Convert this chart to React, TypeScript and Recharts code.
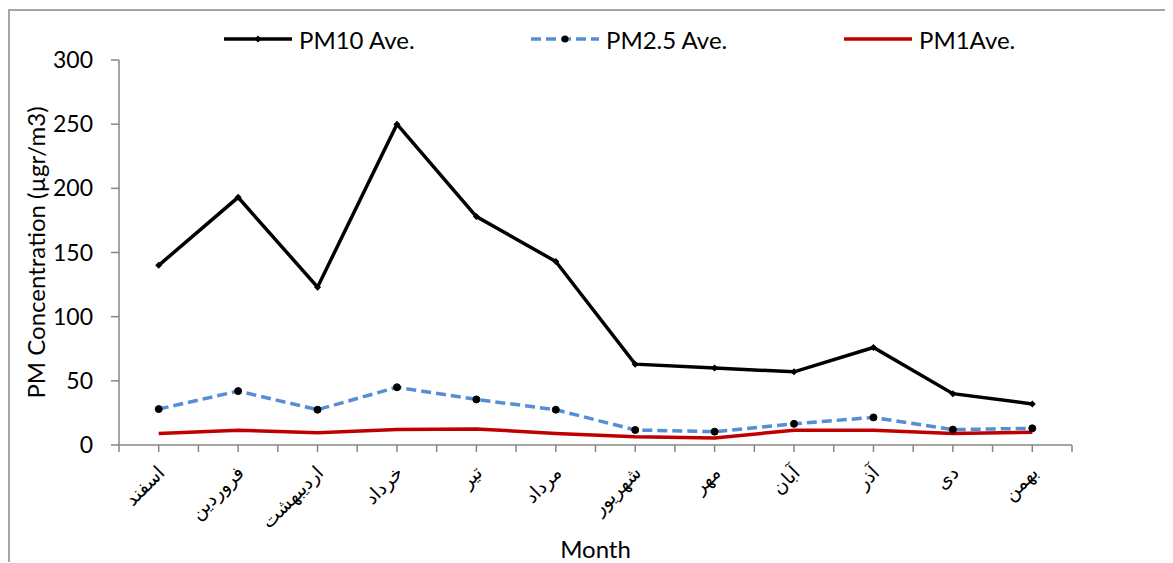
import React from "react";
import { LineChart, Line, XAxis, YAxis, Legend, Label } from "recharts";

const months = [
  "اسفند",
  "فروردین",
  "اردیبهشت",
  "خرداد",
  "تیر",
  "مرداد",
  "شهریور",
  "مهر",
  "آبان",
  "آذر",
  "دی",
  "بهمن",
];
const pm10Values = [140, 193, 123, 250, 178, 143, 63, 60, 57, 76, 40, 32];
const pm25Values = [28, 42, 27.5, 45, 35.5, 27.5, 11.7, 10.4, 16.5, 21.5, 12, 13];
const pm1Values = [9, 11.5, 9.5, 12, 12.5, 9, 6.5, 5.5, 11.5, 11.5, 9, 10];
const yTicks = [0, 50, 100, 150, 200, 250, 300];

const seriesNames = ["PM10 Ave.", "PM2.5 Ave.", "PM1Ave."];

const chartData = months.map((month, i) => ({
  pos: i + 0.5,
  month,
  pm10: pm10Values[i],
  pm25: pm25Values[i],
  pm1: pm1Values[i],
}));

// ticks both at category centres and at the boundaries between them
const xTicks = months.flatMap((_, i) => [i, i + 0.5]).concat(months.length);

const AXIS = "#868686";
const LATIN = "Lato, 'Open Sans', sans-serif";

function MonthTick(props: any) {
  const { x, y, payload } = props;
  const idx = payload.value - 0.5;
  if (!Number.isInteger(idx)) return null;
  const ax = x + 7;
  const ay = y + 22;
  return (
    <text
      x={ax}
      y={ay}
      transform={`rotate(-45 ${ax} ${ay})`}
      textAnchor="end"
      fontFamily="'DejaVu Sans', sans-serif"
      fontSize={19}
      fill="#000"
    >
      {months[idx]}
    </text>
  );
}

function DiamondDot(props: any) {
  const { cx, cy, index } = props;
  if (cx == null || cy == null) return <g key={`pm10-dot-${index}`} />;
  return (
    <path
      key={`pm10-dot-${index}`}
      d={`M${cx},${cy - 3.5} L${cx + 3.5},${cy} L${cx},${cy + 3.5} L${cx - 3.5},${cy} Z`}
      fill="#000"
    />
  );
}

function LegendBox() {
  const items = [
    { name: seriesNames[0], left: 214, color: "#000", dash: undefined, marker: "diamond" },
    { name: seriesNames[1], left: 521, color: "#558ED5", dash: "10 5", marker: "circle" },
    { name: seriesNames[2], left: 834, color: "#C00000", dash: undefined, marker: "none" },
  ];
  return (
    <div style={{ position: "relative", width: 1163, height: 56 }}>
      {items.map((it) => (
        <div
          key={it.name}
          style={{
            position: "absolute",
            left: it.left,
            top: 12,
            height: 32,
            display: "flex",
            alignItems: "center",
            whiteSpace: "nowrap",
          }}
        >
          <svg width={68} height={12} style={{ display: "block" }}>
            <line
              x1={0}
              y1={6}
              x2={68}
              y2={6}
              stroke={it.color}
              strokeWidth={3.5}
              strokeDasharray={it.dash}
            />
            {it.marker === "diamond" && (
              <path d="M34,2.5 L37.5,6 L34,9.5 L30.5,6 Z" fill="#000" />
            )}
            {it.marker === "circle" && <circle cx={34} cy={6} r={3.5} fill="#000" />}
          </svg>
          <span
            style={{
              marginLeft: 7,
              fontFamily: LATIN,
              fontSize: 24,
              color: "#000",
            }}
          >
            {it.name}
          </span>
        </div>
      ))}
    </div>
  );
}

export default function App() {
  return (
    <div
      style={{
        position: "relative",
        top: 1,
        width: 1163,
        height: 552,
        borderTop: "2px solid #a5a5a5",
        borderLeft: "2px solid #a5a5a5",
        background: "#fff",
      }}
    >
      <LineChart
        width={1163}
        height={552}
        data={chartData}
        margin={{ top: 49, right: 101, left: 0, bottom: 0 }}
      >
        <XAxis
          dataKey="pos"
          type="number"
          domain={[0, months.length]}
          ticks={xTicks}
          interval={0}
          height={118}
          tickSize={7}
          tickMargin={0}
          axisLine={{ stroke: AXIS, strokeWidth: 1.5 }}
          tickLine={{ stroke: AXIS, strokeWidth: 1.5 }}
          tick={<MonthTick />}
        >
          <Label
            content={(p: any) => {
              const vb = p.viewBox;
              return (
                <text
                  x={vb.x + vb.width / 2}
                  y={vb.y + 103}
                  textAnchor="middle"
                  dominantBaseline="central"
                  fontFamily={LATIN}
                  fontSize={24}
                  fill="#000"
                >
                  Month
                </text>
              );
            }}
          />
        </XAxis>
        <YAxis
          domain={[0, 300]}
          ticks={yTicks}
          width={109}
          tickSize={8}
          tickMargin={18}
          axisLine={{ stroke: AXIS, strokeWidth: 1.5 }}
          tickLine={{ stroke: AXIS, strokeWidth: 1.5 }}
          tick={{ fill: "#000", fontSize: 23, fontFamily: LATIN }}
        >
          <Label
            content={(p: any) => {
              const vb = p.viewBox;
              const cx = vb.x + 25;
              const cy = vb.y + vb.height / 2;
              return (
                <text
                  x={cx}
                  y={cy}
                  transform={`rotate(-90 ${cx} ${cy})`}
                  textAnchor="middle"
                  dominantBaseline="central"
                  fontFamily={LATIN}
                  fontSize={24}
                  fill="#000"
                >
                  PM Concentration (µgr/m3)
                </text>
              );
            }}
          />
        </YAxis>
        <Legend
          verticalAlign="middle"
          align="center"
          wrapperStyle={{ position: "absolute", top: 0, left: 0, width: 1163, height: 56 }}
          content={() => <LegendBox />}
        />
        <Line
          type="linear"
          dataKey="pm10"
          name={seriesNames[0]}
          stroke="#000"
          strokeWidth={3.5}
          dot={(p: any) => <DiamondDot {...p} key={`pm10-${p.index}`} />}
          activeDot={false}
          isAnimationActive={false}
        />
        <Line
          type="linear"
          dataKey="pm25"
          name={seriesNames[1]}
          stroke="#558ED5"
          strokeWidth={3.5}
          strokeDasharray="10 5"
          dot={{ r: 3.5, fill: "#000", stroke: "#000", strokeWidth: 1, strokeDasharray: "" }}
          activeDot={false}
          isAnimationActive={false}
        />
        <Line
          type="linear"
          dataKey="pm1"
          name={seriesNames[2]}
          stroke="#C00000"
          strokeWidth={3.5}
          dot={false}
          activeDot={false}
          isAnimationActive={false}
        />
      </LineChart>
    </div>
  );
}
